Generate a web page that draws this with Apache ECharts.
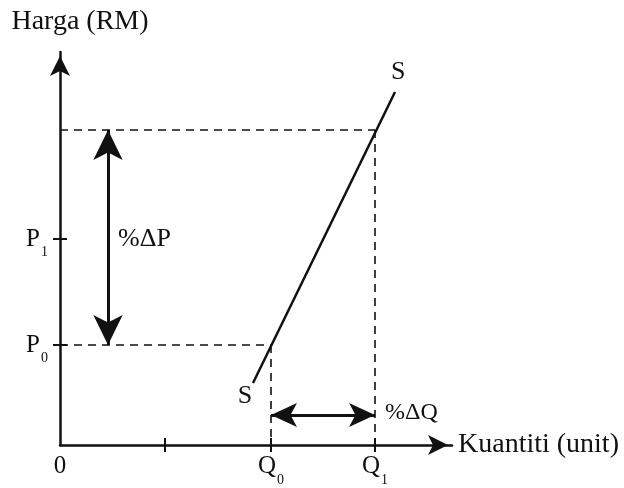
<!DOCTYPE html>
<html><head><meta charset="utf-8">
<script src="https://cdn.jsdelivr.net/npm/echarts@6/dist/echarts.min.js"></script>
<style>html,body{margin:0;background:#fff}#c{width:624px;height:488px}</style>
</head><body><div id="c"></div>
<script>
// Quantities (x) and prices (y) in chart units
const qTickMinor = [1.05];
const qValues = [2.11, 3.15];
const qLabels = ['Q{s|0}', 'Q{s|1}'];
const pValues = [1.0, 2.06];
const pLabels = ['P{s|0}', 'P{s|1}'];
const pTop = 3.15;
const supply = [[1.93, 0.62], [3.35, 3.53]];
const dPArrowX = 0.48;
const dQArrowY = 0.30;

const FONT = 'Liberation Serif';
const INK = '#111';
const chart = echarts.init(document.getElementById('c'));
const rich = { s: { fontSize: 14, fontFamily: FONT, color: INK, verticalAlign: 'bottom', padding: [0,0,-8,1] } };
const dash = { color: INK, type: [8, 6], width: 1.6 };
const txt = (size) => ({ fontFamily: FONT, fontSize: size, color: INK, opacity: 1 });

const tickData = [];
[...qTickMinor, ...qValues].forEach(v => tickData.push([v, 0, 0]));
pValues.forEach(v => tickData.push([0, v, 1]));

chart.setOption({
  animation: false,
  grid: { left: 60, top: 52, width: 392, height: 393, outerBoundsMode: 'none', containLabel: false },
  xAxis: {
    type: 'value', min: 0, max: 3.92, splitLine: {show:false},
    axisLine: { lineStyle: { color: INK, width: 2.5 }, symbol: ['none','arrow'], symbolSize: [15, 20], symbolOffset: [0, -4] },
    axisTick: { show: false },
    axisLabel: Object.assign(txt(25), { customValues: [0, ...qValues], margin: 9,
      formatter: v => v === 0 ? '0' : qLabels[qValues.indexOf(v)], rich }),
    name: 'Kuantiti (unit)', nameLocation: 'end', nameGap: 6,
    nameTextStyle: Object.assign(txt(28), { align: 'left', verticalAlign: 'middle' })
  },
  yAxis: {
    type: 'value', min: 0, max: 3.93, splitLine: {show:false},
    axisLine: { lineStyle: { color: INK, width: 2.5 }, symbol: ['none','arrow'], symbolSize: [15, 20], symbolOffset: [0, -4] },
    axisTick: { show: false },
    axisLabel: Object.assign(txt(25), { customValues: pValues, margin: 12,
      formatter: v => pLabels[pValues.indexOf(v)], rich }),
    name: 'Harga (RM)', nameLocation: 'end', nameGap: 16,
    nameTextStyle: Object.assign(txt(28), { align: 'center', padding: [0,0,0,40] })
  },
  series: [
    { type: 'line', data: supply, symbol: 'none', lineStyle: { color: INK, width: 2.5 }, silent: true,
      endLabel: Object.assign(txt(26), { show: true, formatter: 'S', offset: [-12, -20] }) },
    { type: 'scatter', data: [supply[0]], symbolSize: 0, silent: true, clip: false, itemStyle: { opacity: 1 },
      label: Object.assign(txt(26), { show: true, formatter: 'S', position: 'bottom', distance: 0, offset: [-8, 0] }) },
    { type: 'line', data: [], silent: true,
      markLine: { silent: true, symbol: 'none', label: {show:false}, lineStyle: dash, data: [
        [{coord:[0,pTop]},{coord:[qValues[1],pTop]}],
        [{coord:[0,pValues[0]]},{coord:[qValues[0],pValues[0]]}],
        [{coord:[qValues[1],pTop]},{coord:[qValues[1],0]}],
        [{coord:[qValues[0],pValues[0]]},{coord:[qValues[0],0]}]
      ]}},
    { type: 'custom', silent: true, clip: false, data: tickData,
      renderItem: (params, api) => {
        const p = api.coord([api.value(0), api.value(1)]);
        const vertAxisTick = api.value(2) === 0;
        const h = 7;
        return { type: 'line', shape: vertAxisTick ? { x1: p[0], y1: p[1]-h, x2: p[0], y2: p[1]+h } : { x1: p[0]-h, y1: p[1], x2: p[0]+h, y2: p[1] },
          style: { stroke: INK, lineWidth: 2 } };
      } },
    { type: 'line', data: [], silent: true,
      markLine: { silent: true, symbol: ['arrow','arrow'], symbolSize: [22, 30], label: {show:false},
        lineStyle: { color: INK, type: 'solid', width: 3 }, data: [
        [{coord:[dPArrowX,pTop]},{coord:[dPArrowX,pValues[0]]}]
      ]}},
    { type: 'line', data: [], silent: true,
      markLine: { silent: true, symbol: ['arrow','arrow'], symbolSize: [18, 26], label: {show:false},
        lineStyle: { color: INK, type: 'solid', width: 3 }, data: [
        [{coord:[qValues[0],dQArrowY]},{coord:[qValues[1],dQArrowY]}]
      ]}},
    { type: 'scatter', symbolSize: 0, silent: true, clip: false, itemStyle: { opacity: 1 },
      data: [[dPArrowX, (pValues[1])]],
      label: Object.assign(txt(26), { show: true, formatter: '%ΔP', position: 'right', distance: 10 }) },
    { type: 'scatter', symbolSize: 0, silent: true, clip: false, itemStyle: { opacity: 1 },
      data: [[qValues[1], dQArrowY]],
      label: Object.assign(txt(24), { show: true, formatter: '%ΔQ', position: 'right', distance: 10, offset: [0, -2] }) }
  ]
});
</script></body></html>
